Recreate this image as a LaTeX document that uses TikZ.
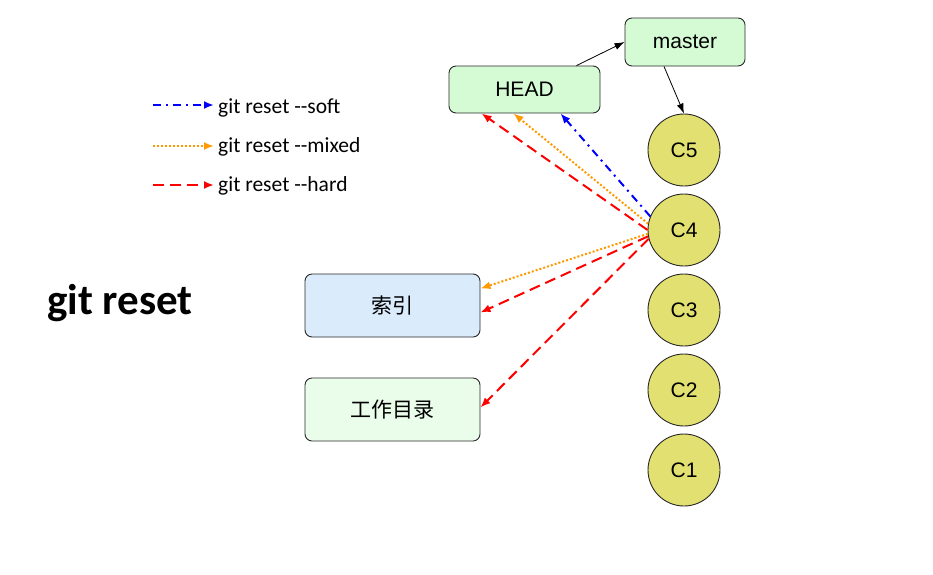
\documentclass[tikz,border=0pt]{standalone}
\usepackage{fontspec}
\setmainfont{Liberation Sans}
\newfontfamily\calibri{Carlito}
\newfontfamily\cjk{Noto Sans CJK SC}
\usetikzlibrary{arrows.meta,calc}
\definecolor{refcolor}{RGB}{213,251,213}
\definecolor{indexcolor}{RGB}{218,235,252}
\definecolor{wdcolor}{RGB}{234,252,234}
\definecolor{commitcolor}{RGB}{225,224,112}
\definecolor{edgecolor}{RGB}{40,40,40}
\definecolor{softcolor}{RGB}{0,0,255}
\definecolor{mixedcolor}{RGB}{255,153,0}
\definecolor{hardcolor}{RGB}{255,0,0}

\begin{document}
\begin{tikzpicture}[x=1pt,y=-1pt,
        box/.style={draw=edgecolor,line width=0.9pt,rounded corners=7pt,font=\fontsize{21}{21}\selectfont},
        commit/.style={circle,draw=edgecolor,line width=0.9pt,fill=commitcolor,minimum size=72pt,inner sep=0pt,font=\fontsize{21}{21}\selectfont},
        ptr/.style={-{Latex[length=10pt,width=7pt]},black,line width=0.8pt},
        soft/.style={-{Latex[length=10pt,width=8pt]},softcolor,line width=2pt,dash pattern=on 8pt off 5pt on 2pt off 5pt},
        mixed/.style={-{Latex[length=10pt,width=8pt]},mixedcolor,line width=2pt,dash pattern=on 2pt off 2pt},
        hard/.style={-{Latex[length=10pt,width=8pt]},hardcolor,line width=2pt,dash pattern=on 11pt off 6pt},
        legend/.style={anchor=west,inner sep=4pt,font=\calibri\fontsize{21.5}{21.5}\selectfont}]
        \useasboundingbox (0,0) rectangle (933,574);

        % draw title
        \node[font=\calibri\bfseries\fontsize{43}{43}\selectfont] (title) at (120,303) {git reset};

        % draw legend
        \coordinate (soft-a) at (153,105);
        \coordinate (mixed-a) at (153,146);
        \coordinate (hard-a) at (153,185);
        \node[legend] (soft-txt) at (214,108) {git reset --soft};
        \node[legend] (mixed-txt) at (214,147) {git reset --mixed};
        \node[legend] (hard-txt) at (214,186) {git reset --hard};
        \draw[soft] (soft-a) -- (soft-a -| soft-txt.west);
        \draw[mixed] (mixed-a) -- (mixed-a -| mixed-txt.west);
        \draw[hard] (hard-a) -- (hard-a -| hard-txt.west);

        % draw refs
        \node[box,fill=refcolor,minimum width=120pt,minimum height=48pt] (master) at (685,42) {master};
        \node[box,fill=refcolor,minimum width=151pt,minimum height=47pt] (head) at (524.5,89.5) {HEAD};

        % draw index and working tree
        \node[box,fill=indexcolor,minimum width=175pt,minimum height=63pt] (index) at (392.5,305.5) {\cjk 索引};
        \node[box,fill=wdcolor,minimum width=175pt,minimum height=63pt] (workdir) at (392.5,409.5) {\cjk 工作目录};

        % draw commits
        \foreach \i/\y in {5/150,4/230,3/310,2/390,1/470}
            \node[commit] (c\i) at (684,\y) {C\i};

        \draw[ptr] ($(head.north)+(52,0)$) -- (master.west);
        \draw[ptr] ($(master.south)+(-21,0)$) -- (c5.north);

        % draw resets
        \draw[soft] (c4.158) -- ($(head.south)+(36,0)$);
        \draw[mixed] (c4.170) -- ($(head.south)+(-11,0)$);
        \draw[hard] (c4.180) -- ($(head.south)+(-43,0)$);
        \draw[mixed] (c4.186) -- ($(index.east)+(0,-17)$);
        \draw[hard] (c4.190) -- ($(index.east)+(0,7)$);
        \draw[hard] (c4.194) -- ($(workdir.east)+(0,-2)$);
\end{tikzpicture}
\end{document}
